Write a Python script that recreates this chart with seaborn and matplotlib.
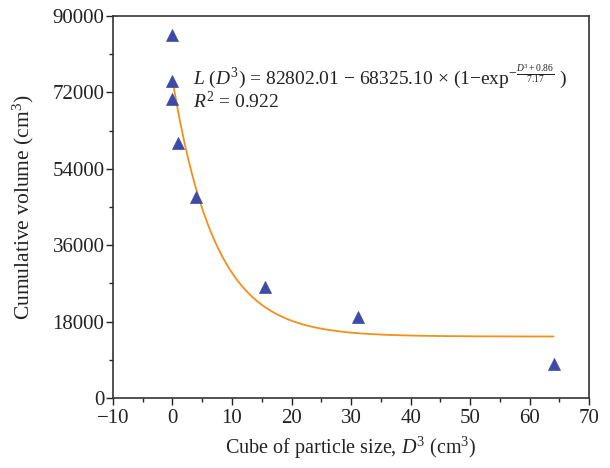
import numpy as np
import pandas as pd
import matplotlib
matplotlib.use("Agg")
import matplotlib.pyplot as plt
import seaborn as sns
from matplotlib.ticker import MultipleLocator

d3_values = [0.0, 0.0, 0.0, 1.0, 4.0, 15.6, 31.2, 64.0]
volume_values = [85500, 74700, 70400, 60100, 47400, 26200, 19100, 8000]

# Fitted model parameters (as printed on the chart)
fit_a = 82802.01
fit_b = 68325.10
fit_c = 0.86
fit_d = 7.17
fit_r2 = 0.922

x_ticks = [-10, 0, 10, 20, 30, 40, 50, 60, 70]
y_ticks = [0, 18000, 36000, 54000, 72000, 90000]

sns.set_style("ticks")
plt.rcParams['font.family'] = ['Liberation Serif', 'DejaVu Serif']
plt.rcParams['mathtext.fontset'] = 'custom'
plt.rcParams['mathtext.rm'] = 'Liberation Serif'
plt.rcParams['mathtext.it'] = 'Liberation Serif:italic'
plt.rcParams['mathtext.bf'] = 'Liberation Serif:bold'

fig = plt.figure(figsize=(6.1, 4.68), dpi=100)
ax = fig.add_axes([0.185, 0.1496, 0.781, 0.8164])

pts = pd.DataFrame({"D3": d3_values, "V": volume_values})
fit_x = np.linspace(0, max(d3_values), 300)
fit_y = fit_a - fit_b * (1 - np.exp(-(fit_x + fit_c) / fit_d))
fit = pd.DataFrame({"D3": fit_x, "V": fit_y})

sns.lineplot(data=fit, x="D3", y="V", ax=ax, color="#F39019", linewidth=1.3, zorder=2)
sns.scatterplot(data=pts, x="D3", y="V", ax=ax, marker="^", s=75, color="#3E4BA6",
                edgecolor="#3E4BA6", linewidth=0.5, zorder=3)

ax.set_xlim(-10, 70)
ax.set_ylim(0, 90000)
ax.set_xticks(x_ticks)
ax.set_yticks(y_ticks)
ax.xaxis.set_minor_locator(MultipleLocator(5))
ax.yaxis.set_minor_locator(MultipleLocator(9000))
ax.set_xticklabels(["\u221210" if t < 0 else str(t) for t in x_ticks])
ax.set_yticklabels([str(t) for t in y_ticks])
ax.tick_params(which='major', direction='out', length=5, width=1, labelsize=15,
               colors='#222222', top=False, right=False, pad=3)
ax.tick_params(axis='y', which='major', pad=1)
ax.tick_params(which='minor', direction='out', length=3, width=1, top=False, right=False)
for s in ax.spines.values():
    s.set_linewidth(1.2)
    s.set_color('#333333')

ax.set_xlabel("Cube of particle size, $D^3$ (cm$^3$)", fontsize=14.5, color='#222222',
              labelpad=5)
ax.set_ylabel("Cumulative volume (cm$^3$)", fontsize=15.5, color='#222222', labelpad=12)

eq_text = ("$L$ ($D^3$) = {:.2f} \u2212 {:.2f} \u00d7 (1\u2212exp"
           "$^{{-\\frac{{D^3+{:.2f}}}{{{:.2f}}}}}$ )").format(fit_a, fit_b, fit_c, fit_d)
ax.text(3.4, 74000, eq_text, fontsize=14, color='#222222', va='baseline', ha='left')
ax.text(3.4, 68300, "$R^2$ = {:.3f}".format(fit_r2), fontsize=14, color='#222222',
        va='baseline', ha='left')

fig.savefig("out.png", dpi=100)
